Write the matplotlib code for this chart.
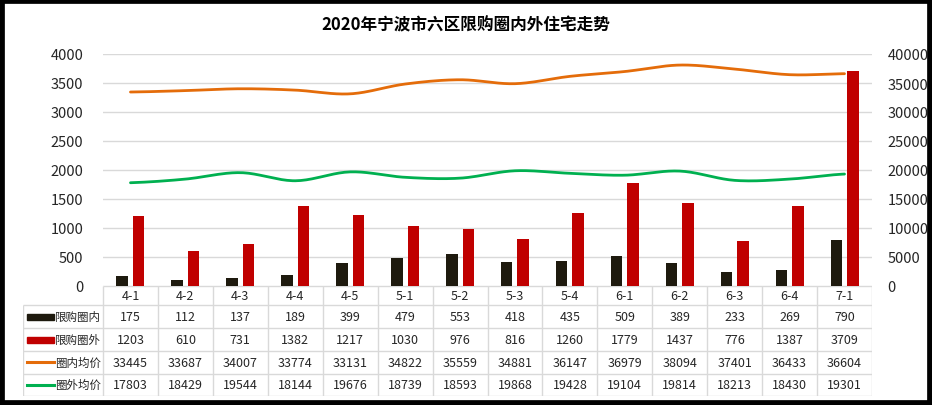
"""
2020年宁波市六区限购圈内外住宅走势: bars for volume, smoothed lines for avg price,
Excel-style data table under the chart.
"""
import numpy as np
import matplotlib
matplotlib.use("Agg")
import matplotlib.pyplot as plt
import matplotlib.patches as mpatches
from matplotlib.lines import Line2D

plt.rcParams["font.family"] = ["Noto Sans CJK SC", "DejaVu Sans"]

weeks = ["4-1", "4-2", "4-3", "4-4", "4-5", "5-1", "5-2", "5-3", "5-4",
         "6-1", "6-2", "6-3", "6-4", "7-1"]
inside_cnt = [175, 112, 137, 189, 399, 479, 553, 418, 435, 509, 389, 233, 269, 790]
outside_cnt = [1203, 610, 731, 1382, 1217, 1030, 976, 816, 1260, 1779, 1437,
               776, 1387, 3709]
inside_price = [33445, 33687, 34007, 33774, 33131, 34822, 35559, 34881, 36147,
                36979, 38094, 37401, 36433, 36604]
outside_price = [17803, 18429, 19544, 18144, 19676, 18739, 18593, 19868, 19428,
                 19104, 19814, 18213, 18430, 19301]
series_names = ["限购圈内", "限购圈外", "圈内均价", "圈外均价"]

C_IN = "#1E1A0E"
C_OUT = "#C00000"
C_ORANGE = "#E46C0A"
C_GREEN = "#00B050"
GRID = "#D9D9D9"
TXT = "#262626"

W, H = 932, 406


def smooth(y, steps=20):
    # Catmull-Rom through the points, like Excel's smoothed line
    y = np.asarray(y, float)
    n = len(y)
    xs, ys = [], []
    for i in range(n - 1):
        p0 = y[max(i - 1, 0)]
        p1, p2 = y[i], y[i + 1]
        p3 = y[min(i + 2, n - 1)]
        t = np.linspace(0, 1, steps, endpoint=False)
        seg = 0.5 * ((2 * p1) + (-p0 + p2) * t
                     + (2 * p0 - 5 * p1 + 4 * p2 - p3) * t ** 2
                     + (-p0 + 3 * p1 - 3 * p2 + p3) * t ** 3)
        xs.extend(i + t)
        ys.extend(seg)
    xs.append(n - 1)
    ys.append(y[-1])
    return np.array(xs), np.array(ys)


fig = plt.figure(figsize=(W / 100, H / 100), dpi=100)

# main plot area in pixels
L, R, T, B = 103, 872, 55, 287
ax = fig.add_axes([L / W, 1 - B / H, (R - L) / W, (B - T) / H])
ax2 = ax.twinx()

x = np.arange(len(weeks))
ax.bar(x - 0.15, inside_cnt, width=0.21, color=C_IN, zorder=3)
ax.bar(x + 0.15, outside_cnt, width=0.21, color=C_OUT, zorder=3)
ax.set_ylim(0, 4000)
ax.set_yticks(np.arange(0, 4001, 500))
ax.set_xlim(-0.5, len(weeks) - 0.5)
ax.set_xticks([])
ax.grid(axis="y", color=GRID, linewidth=1, zorder=0)
ax.set_axisbelow(True)

for vals, c in [(inside_price, C_ORANGE), (outside_price, C_GREEN)]:
    sx, sy = smooth(vals)
    ax2.plot(sx, sy, color=c, linewidth=2.0, solid_capstyle="round", zorder=4)
ax2.set_ylim(0, 40000)
ax2.set_yticks(np.arange(0, 40001, 5000))

for a in (ax, ax2):
    for s in a.spines.values():
        s.set_visible(False)
    a.tick_params(length=0, labelsize=10.5, colors=TXT)
ax.tick_params(axis="y", pad=14)
ax2.tick_params(axis="y", pad=11)

fig.text(0.5, 1 - 25 / H, "2020年宁波市六区限购圈内外住宅走势",
         ha="center", va="center", fontsize=12, fontweight="bold", color="black")

# data table below the plot
TL, TT, TB = 23, 287, 397
tab = fig.add_axes([TL / W, 1 - TB / H, (R - TL) / W, (TB - TT) / H])
col_w = (R - L) / len(weeks)
x_left = -0.5 - (L - TL) / col_w
tab.set_xlim(x_left, len(weeks) - 0.5)
rows_y = [0, 19, 42, 65, 87.5, 110]
tab.set_ylim(110, 0)
tab.axis("off")

lk = dict(color=GRID, linewidth=1, solid_capstyle="butt")
# horizontal lines
tab.plot([-0.5, len(weeks) - 0.5], [rows_y[0]] * 2, **lk)
for yy in rows_y[1:]:
    tab.plot([x_left, len(weeks) - 0.5], [yy, yy], **lk)
# vertical lines
for k in range(len(weeks) + 1):
    tab.plot([k - 0.5] * 2, [0, 110], **lk)
tab.plot([x_left] * 2, [rows_y[1], 110], **lk)

for i, w in enumerate(weeks):
    tab.text(i, (rows_y[0] + rows_y[1]) / 2, w, ha="center", va="center",
             fontsize=9, color=TXT)

table_rows = [inside_cnt, outside_cnt, inside_price, outside_price]
sw_x0 = x_left + 4 / col_w
sw_x1 = x_left + 31 / col_w
for r, (name, vals) in enumerate(zip(series_names, table_rows)):
    yc = (rows_y[r + 1] + rows_y[r + 2]) / 2
    for i, v in enumerate(vals):
        tab.text(i, yc, str(v), ha="center", va="center", fontsize=9, color=TXT)
    tab.text(sw_x1 + 1 / col_w, yc, name, ha="left", va="center",
             fontsize=8.3, color=TXT)
    if r < 2:
        tab.add_patch(mpatches.Rectangle((sw_x0, yc - 3), sw_x1 - sw_x0, 6,
                                         color=[C_IN, C_OUT][r]))
    else:
        tab.add_line(Line2D([sw_x0, sw_x1], [yc, yc], linewidth=2.2,
                            color=[C_ORANGE, C_GREEN][r - 2]))

# black frame around the picture
fig.patches.append(mpatches.Rectangle((0, 0), 1, 1, transform=fig.transFigure,
                                      fill=False, edgecolor="black",
                                      linewidth=7))

fig.savefig("out.png", dpi=100)
